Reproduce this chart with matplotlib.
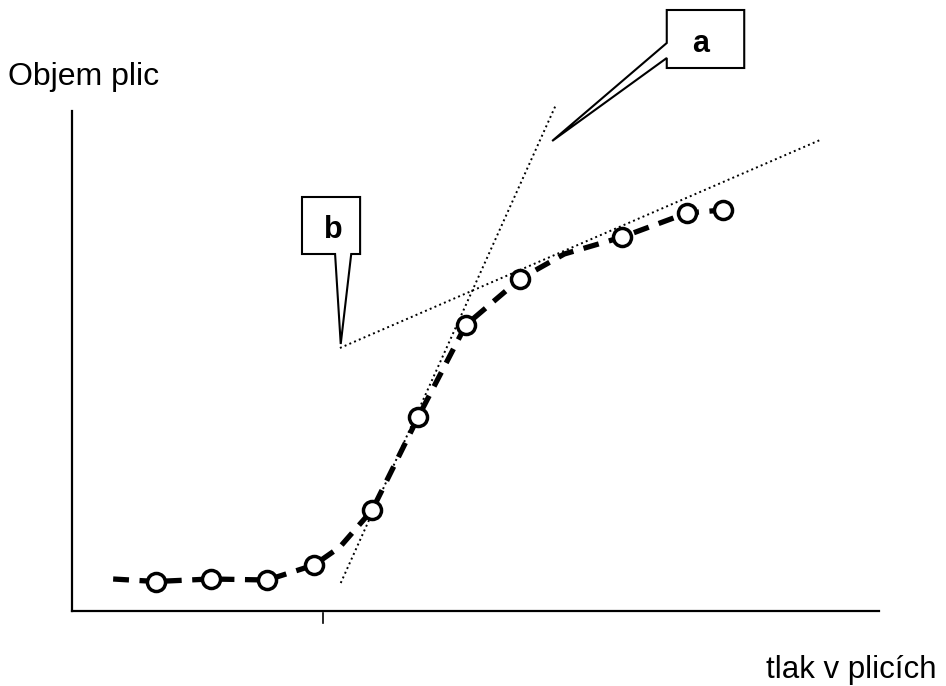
import matplotlib
matplotlib.use('Agg')
import matplotlib.pyplot as plt
from matplotlib.patches import Polygon

plt.rcParams['font.family'] = ['Liberation Sans', 'DejaVu Sans']

# measured points on the pressure-volume curve (arbitrary units, 0-100)
pressure = [10.4, 17.2, 24.2, 30.0, 37.2, 42.9, 48.8, 55.5, 68.2, 76.2, 80.7]
volume = [5.9, 6.4, 6.2, 9.2, 20.2, 38.8, 57.2, 66.4, 74.8, 79.6, 80.2]

# hand-traced dashed curve through the measurements
curve_x = [5.1, 10.4, 17.2, 24.2, 30.0, 33.2, 37.2, 42.9, 48.8, 55.5, 61.0, 68.2, 76.2, 80.7]
curve_y = [6.4, 5.9, 6.4, 6.2, 9.2, 12.8, 20.2, 38.8, 57.2, 66.4, 71.4, 74.8, 79.6, 80.2]

# tangents: a = steep middle part, b = upper flat part
tan_a_x = [33.3, 59.9]
tan_a_y = [5.6, 101.0]
tan_b_x = [33.2, 92.7]
tan_b_y = [52.6, 94.2]

W, H = 946, 686
fig = plt.figure(figsize=(W / 100, H / 100), dpi=100)
ax = fig.add_axes([72 / W, (H - 611) / H, 807 / W, 500 / H])
ax.set_xlim(0, 100)
ax.set_ylim(0, 100)
for side in ['top', 'right']:
    ax.spines[side].set_visible(False)
for side in ['left', 'bottom']:
    ax.spines[side].set_linewidth(1.6)
ax.set_xticks([])
ax.set_yticks([])

line, = ax.plot(curve_x, curve_y, color='black', lw=3.8, zorder=2,
                solid_capstyle='butt')
line.set_dashes((3, 2))
ax.plot(pressure, volume, linestyle='None', marker='o', ms=13, mfc='white',
        mec='black', mew=2.5, zorder=3)

ax.plot(tan_a_x, tan_a_y, color='black', lw=1.4, linestyle=':', clip_on=False)
ax.plot(tan_b_x, tan_b_y, color='black', lw=1.4, linestyle=':', clip_on=False)

# small stroke below the axis
ax.plot([31.1, 31.1], [-0.4, -2.4], color='black', lw=1.2, clip_on=False)

# callout boxes with pointers
callout_a = [(83.3, 120.2), (83.3, 108.6), (73.7, 108.6), (73.7, 110.6),
             (59.5, 94.0), (73.7, 113.6), (73.7, 120.2)]
callout_b = [(28.5, 82.8), (35.7, 82.8), (35.7, 71.4), (34.6, 71.4),
             (33.3, 53.4), (32.6, 71.4), (28.5, 71.4)]
for pts in (callout_a, callout_b):
    ax.add_patch(Polygon(pts, closed=True, facecolor='white', edgecolor='black',
                         lw=1.5, clip_on=False, zorder=4, joinstyle='miter'))
ax.text(77.9, 111.8, 'a', fontsize=22, fontweight='bold', ha='center',
        va='baseline', zorder=5, clip_on=False)
ax.text(32.4, 74.6, 'b', fontsize=22, fontweight='bold', ha='center',
        va='baseline', zorder=5, clip_on=False)

fig.text(8 / W, 1 - 85 / H, 'Objem plic', fontsize=23, va='baseline')
fig.text(766 / W, 1 - 678 / H, 'tlak v plicích', fontsize=22.5, va='baseline')

fig.savefig('out.png', dpi=100, facecolor='white')
